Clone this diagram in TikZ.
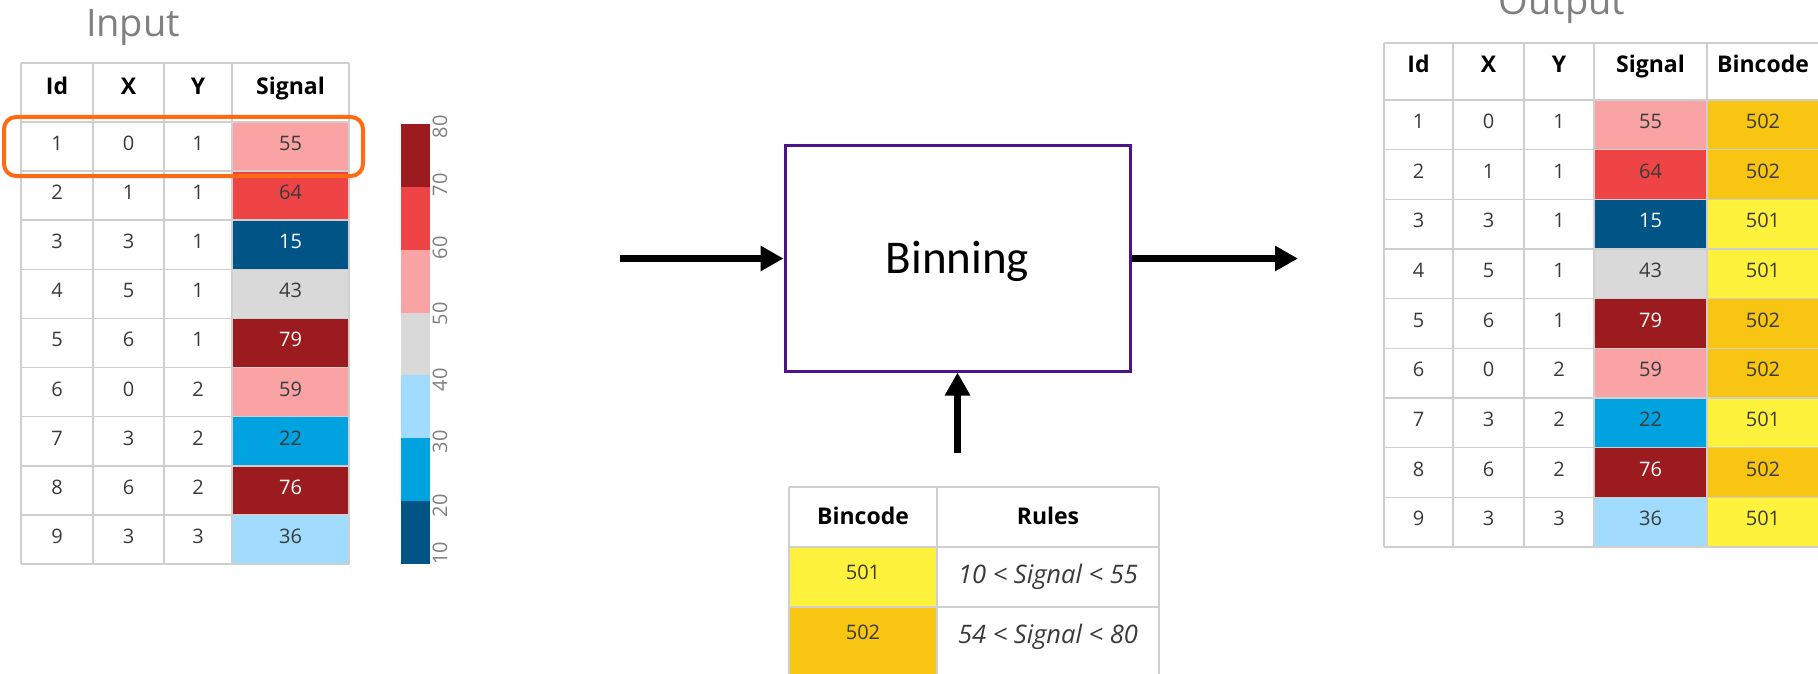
\documentclass[tikz,border=0pt]{standalone}
\usepackage{fontspec}
\setmainfont{Open Sans}
\newfontfamily\calibfont{Carlito}
\usetikzlibrary{arrows.meta}
\definecolor{cdred}{HTML}{9B1B1F}
\definecolor{cred}{HTML}{EF4446}
\definecolor{cpink}{HTML}{F9A3A4}
\definecolor{clgray}{HTML}{D9D9D9}
\definecolor{clblue}{HTML}{A1DBFD}
\definecolor{cmblue}{HTML}{01A2E0}
\definecolor{cdblue}{HTML}{015486}
\definecolor{cyel}{HTML}{FEF23D}
\definecolor{camber}{HTML}{F8C513}
\definecolor{cpurple}{HTML}{4B1489}
\definecolor{corange}{HTML}{FF6A13}
\definecolor{tdark}{HTML}{3A3A3A}
\definecolor{gridc}{HTML}{CFCFCF}
\definecolor{ctitle}{HTML}{808080}
\begin{document}
\begin{tikzpicture}[x=1pt,y=-1pt,
  cell/.style={anchor=base,inner sep=0pt,text=tdark,font=\fontsize{20}{24}\selectfont},
  headcell/.style={anchor=base,inner sep=0pt,text=black,font=\bfseries\fontsize{23}{28}\selectfont},
  rulecell/.style={anchor=base,inner sep=0pt,text=tdark,font=\itshape\fontsize{25.5}{30}\selectfont},
  gridline/.style={draw=gridc,line width=1.5pt},
  titlelabel/.style={anchor=base,inner sep=0pt,text=ctitle,font=\fontsize{38}{44}\selectfont},
  cblabel/.style={rotate=90,inner sep=0pt,text=ctitle,font=\fontsize{20}{24}\selectfont},
  flow/.style={line width=7pt,-{Triangle[length=23pt,width=24pt]}},
  highlight/.style={draw=corange,line width=4pt,rounded corners=12pt},
  procbox/.style={draw=cpurple,line width=3pt,minimum width=345pt,minimum height=225pt,
    text height=30pt,text depth=0pt,font=\calibfont\fontsize{47}{52}\selectfont}
]
\fill[white] (0,0) rectangle (1818,674);
\useasboundingbox (0,0) rectangle (1818,674);

% ---------------- Input ----------------
\node[titlelabel] (inputtitle) at (133,37) {Input};
\foreach[count=\i] \a/\b/\c/\s/\f/\t in {1/0/1/55/cpink/tdark,2/1/1/64/cred/tdark,3/3/1/15/cdblue/white,4/5/1/43/clgray/tdark,5/6/1/79/cdred/white,6/0/2/59/cpink/tdark,7/3/2/22/cmblue/tdark,8/6/2/76/cdred/white,9/3/3/36/clblue/tdark}{
  \pgfmathsetmacro\yt{122+(\i-1)*49.11}
  \pgfmathsetmacro\yb{\yt+49.11}
  \pgfmathsetmacro\yl{(\yt+\yb)/2+4}
  \fill[\f] (232,\yt) rectangle (349,\yb);
  \node[cell] (in-id-\i) at (57,\yl) {\a};
  \node[cell] (in-x-\i) at (128.5,\yl) {\b};
  \node[cell] (in-y-\i) at (198,\yl) {\c};
  \node[cell,text=\t] (in-s-\i) at (290.5,\yl) {\s};
}
\node[headcell] (in-h-id) at (57,95) {Id};
\node[headcell] (in-h-x) at (128.5,95) {X};
\node[headcell] (in-h-y) at (198,95) {Y};
\node[headcell] (in-h-s) at (290.5,95) {Signal};
\draw[gridline] (21,63) -- (349,63);
\foreach \k in {0,...,9}{
  \pgfmathsetmacro\yy{122+\k*49.11}
  \draw[gridline] (21,\yy) -- (349,\yy);
}
\foreach \xx in {21,93,164,232,349}{
  \draw[gridline] (\xx,63) -- (\xx,564);
}
\draw[highlight] (4,117) rectangle (363,176);

% colour bar
\foreach[count=\i] \f in {cdred,cred,cpink,clgray,clblue,cmblue,cdblue}{
  \pgfmathsetmacro\yt{124+(\i-1)*62.86}
  \pgfmathsetmacro\yb{\yt+62.86}
  \fill[\f] (401,\yt) rectangle (430,\yb);
}
\foreach \v/\yy in {80/127,70/185,60/248,50/314,40/380,30/442,20/506,10/553}{
  \node[cblabel] (cb-\v) at (440,\yy) {\v};
}

% ---------------- Binning ----------------
\node[procbox] (bin) at (957.5,258.5) {Binning};
\coordinate (inarrow) at (620,258.5);
\coordinate (outarrow) at (1298,258.5);
\coordinate (rulesarrow) at (957.5,453);
\draw[flow] (inarrow) -- (bin.west);
\draw[flow] (bin.east) -- (outarrow);
\draw[flow] (rulesarrow) -- (bin.south);

% rules table
\fill[cyel] (789,547) rectangle (937,607);
\fill[camber] (789,607) rectangle (937,676);
\foreach \yy in {487,547,607}{
  \draw[gridline] (789,\yy) -- (1159,\yy);
}
\foreach \xx in {789,937,1159}{
  \draw[gridline] (\xx,487) -- (\xx,676);
}
\node[headcell] (rules-h-b) at (863,524) {Bincode};
\node[headcell] (rules-h-r) at (1048,524) {Rules};
\node[cell] (rules-b-1) at (863,579) {501};
\node[cell] (rules-b-2) at (863,639) {502};
\node[rulecell] (rules-r-1) at (1048,583) {10 < Signal < 55};
\node[rulecell] (rules-r-2) at (1048,643) {54 < Signal < 80};

% ---------------- Output ----------------
\node[titlelabel] (outputtitle) at (1562,15) {Output};
\foreach[count=\i] \a/\b/\c/\s/\f/\t/\bc/\bf in {1/0/1/55/cpink/tdark/502/camber,2/1/1/64/cred/tdark/502/camber,3/3/1/15/cdblue/white/501/cyel,4/5/1/43/clgray/tdark/501/cyel,5/6/1/79/cdred/white/502/camber,6/0/2/59/cpink/tdark/502/camber,7/3/2/22/cmblue/tdark/501/cyel,8/6/2/76/cdred/white/502/camber,9/3/3/36/clblue/tdark/501/cyel}{
  \pgfmathsetmacro\yt{100+(\i-1)*49.67}
  \pgfmathsetmacro\yb{\yt+49.67}
  \pgfmathsetmacro\yl{(\yt+\yb)/2+3.5}
  \fill[\f] (1594,\yt) rectangle (1707,\yb);
  \fill[\bf] (1707,\yt) rectangle (1819,\yb);
  \node[cell] (out-id-\i) at (1418.5,\yl) {\a};
  \node[cell] (out-x-\i) at (1488.5,\yl) {\b};
  \node[cell] (out-y-\i) at (1559,\yl) {\c};
  \node[cell,text=\t] (out-s-\i) at (1650.5,\yl) {\s};
  \node[cell] (out-b-\i) at (1763,\yl) {\bc};
}
\node[headcell] (out-h-id) at (1418.5,73) {Id};
\node[headcell] (out-h-x) at (1488.5,73) {X};
\node[headcell] (out-h-y) at (1559,73) {Y};
\node[headcell] (out-h-s) at (1650.5,73) {Signal};
\node[headcell] (out-h-b) at (1763,73) {Bincode};
\draw[gridline] (1384,43) -- (1819,43);
\foreach \k in {0,...,9}{
  \pgfmathsetmacro\yy{100+\k*49.67}
  \draw[gridline] (1384,\yy) -- (1819,\yy);
}
\foreach \xx in {1384,1453,1524,1594,1707,1819}{
  \draw[gridline] (\xx,43) -- (\xx,547);
}
\end{tikzpicture}
\end{document}
